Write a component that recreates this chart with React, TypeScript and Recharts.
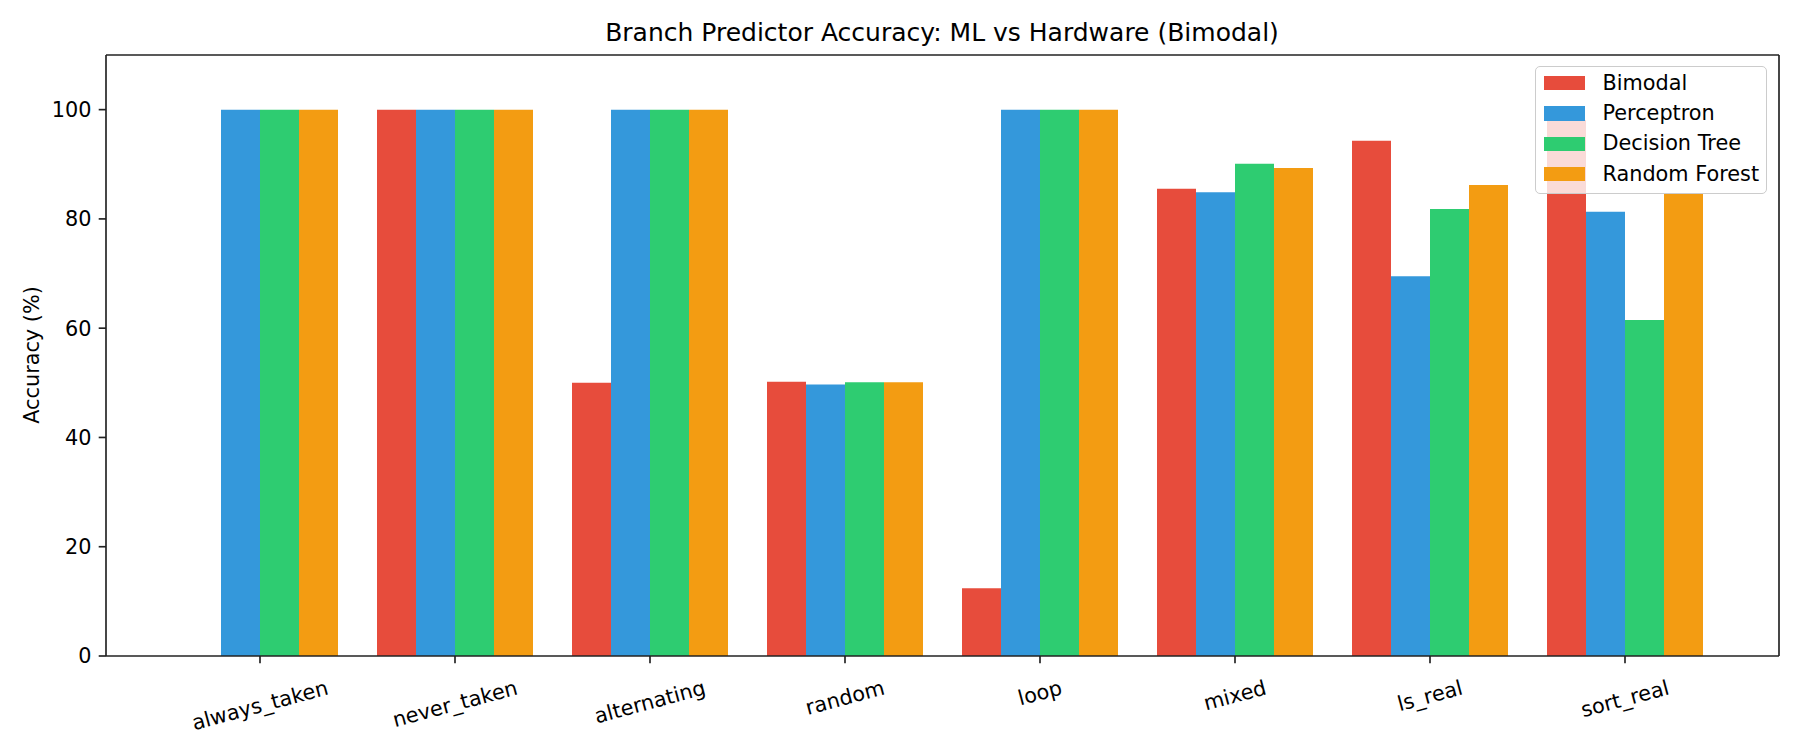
import React from 'react';
import { BarChart, Bar, XAxis, YAxis } from 'recharts';

const categories = ['always_taken', 'never_taken', 'alternating', 'random', 'loop', 'mixed', 'ls_real', 'sort_real'];
const bimodal = [0, 100, 50.0, 50.2, 12.4, 85.5, 94.3, 98.1];
const perceptron = [100, 100, 100, 49.7, 100, 84.9, 69.5, 81.3];
const decisionTree = [100, 100, 100, 50.1, 100, 90.1, 81.8, 61.5];
const randomForest = [100, 100, 100, 50.1, 100, 89.3, 86.2, 84.6];
const yTicks = [0, 20, 40, 60, 80, 100];

const series = [
  { key: 'bimodal', name: 'Bimodal', color: '#e74c3c', values: bimodal },
  { key: 'perceptron', name: 'Perceptron', color: '#3498db', values: perceptron },
  { key: 'decisionTree', name: 'Decision Tree', color: '#2ecc71', values: decisionTree },
  { key: 'randomForest', name: 'Random Forest', color: '#f39c12', values: randomForest },
];

const data = categories.map((name, i) => {
  const row: Record<string, string | number> = { name };
  series.forEach((s) => { row[s.key] = s.values[i]; });
  return row;
});

const FONT = '"DejaVu Sans", sans-serif';
const TICK_FS = 20.8;
const INK = '#222';

let measureCtx: CanvasRenderingContext2D | null = null;
const textWidth = (t: string) => {
  if (!measureCtx) measureCtx = document.createElement('canvas').getContext('2d');
  if (!measureCtx) return t.length * TICK_FS * 0.58;
  measureCtx.font = `${TICK_FS}px "DejaVu Sans"`;
  return measureCtx.measureText(t).width;
};

// matplotlib style rotated label: rotated box hangs below the tick
const RotatedTick = (props: any) => {
  const { x, y, payload } = props;
  const label = String(payload.value);
  const w = textWidth(label);
  const a = (15 * Math.PI) / 180;
  const h = w * Math.sin(a) + TICK_FS * 1.16 * Math.cos(a);
  const cy = y + 5 + h / 2;
  return (
    <text
      x={x}
      y={cy}
      textAnchor="middle"
      dominantBaseline="central"
      transform={`rotate(-15, ${x}, ${cy})`}
      fontFamily={FONT}
      fontSize={TICK_FS}
      fill="#000"
    >
      {label}
    </text>
  );
};

export default function App() {
  return (
    <div style={{ position: 'absolute', left: 0, top: 0, width: 1800, height: 750, background: '#fff' }}>
      <BarChart
        width={1800}
        height={750}
        data={data}
        margin={{ top: 54, right: 20, bottom: 34, left: 20 }}
        barCategoryGap="10%"
        barGap={0}
      >
        <XAxis
          dataKey="name"
          padding={{ left: 56.5, right: 56.5 }}
          height={60}
          tickSize={7.3}
          tickMargin={7.3}
          tick={<RotatedTick />}
          interval={0}
          axisLine={{ stroke: INK, strokeWidth: 1.67 }}
          tickLine={{ stroke: INK, strokeWidth: 1.67 }}
        />
        <XAxis
          xAxisId="top"
          dataKey="name"
          orientation="top"
          height={1}
          tick={false}
          tickLine={false}
          axisLine={{ stroke: INK, strokeWidth: 1.67 }}
        />
        <YAxis
          domain={[0, 110]}
          ticks={yTicks}
          width={86}
          tickSize={7.3}
          tickMargin={7.3}
          tick={{ fontFamily: FONT, fontSize: TICK_FS, fill: '#000' }}
          axisLine={{ stroke: INK, strokeWidth: 1.67 }}
          tickLine={{ stroke: INK, strokeWidth: 1.67 }}
        />
        <YAxis
          yAxisId="right"
          orientation="right"
          domain={[0, 110]}
          width={1}
          tick={false}
          tickLine={false}
          axisLine={{ stroke: INK, strokeWidth: 1.67 }}
        />
        {series.map((s) => (
          <Bar key={s.key} dataKey={s.key} name={s.name} fill={s.color} isAnimationActive={false} />
        ))}
      </BarChart>

      <svg width={1800} height={750} style={{ position: 'absolute', left: 0, top: 0, pointerEvents: 'none' }}>
        <text x={942} y={41} textAnchor="middle" fontFamily={FONT} fontSize={25} fill="#000">
          Branch Predictor Accuracy: ML vs Hardware (Bimodal)
        </text>
        <text
          x={32}
          y={355}
          textAnchor="middle"
          dominantBaseline="central"
          transform="rotate(-90, 32, 355)"
          fontFamily={FONT}
          fontSize={TICK_FS}
          fill="#000"
        >
          Accuracy (%)
        </text>
      </svg>

      <div
        style={{
          position: 'absolute',
          left: 1535,
          top: 66,
          width: 232,
          height: 128,
          boxSizing: 'border-box',
          border: '1.5px solid #cccccc',
          borderRadius: 5,
          background: 'rgba(255,255,255,0.8)',
          paddingTop: 1,
          fontFamily: FONT,
          fontSize: TICK_FS,
        }}
      >
        {series.map((s) => (
          <div key={s.key} style={{ display: 'flex', alignItems: 'center', height: 30.33 }}>
            <span style={{ display: 'inline-block', marginLeft: 7.5, width: 41, height: 14.5, background: s.color }} />
            <span style={{ marginLeft: 18, lineHeight: 1 }}>{s.name}</span>
          </div>
        ))}
      </div>
    </div>
  );
}
